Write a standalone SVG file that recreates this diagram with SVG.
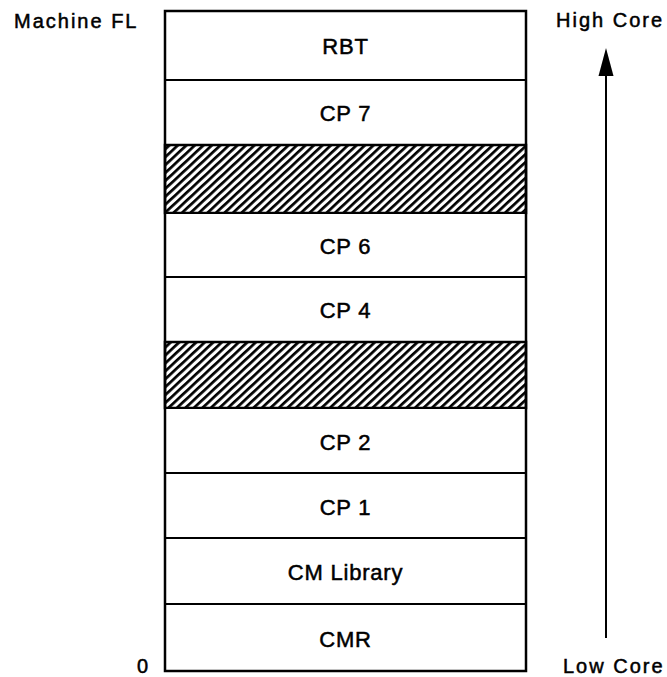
<svg xmlns="http://www.w3.org/2000/svg" width="667" height="677" viewBox="0 0 667 677">
<defs>
<style>
.lbl{font-family:"Liberation Sans",Arial,sans-serif;font-size:22px;fill:#000;stroke:#000;stroke-width:0.5px;text-anchor:middle;letter-spacing:0.8px}
.side{font-family:"Liberation Sans",Arial,sans-serif;font-size:20px;fill:#000;stroke:#000;stroke-width:0.5px;letter-spacing:2px}
.cell{fill:#fff;stroke:#000;stroke-width:2}
.hatch{fill:url(#hatch);stroke:#000;stroke-width:2.5}
</style>
<pattern id="hatch" patternUnits="userSpaceOnUse" width="5.8" height="5.8" patternTransform="rotate(47)">
<rect width="5.8" height="5.8" fill="#fff"/>
<rect x="0" y="0" width="2.7" height="5.8" fill="#000"/>
</pattern>
</defs>
<rect x="0" y="0" width="667" height="677" fill="#fff"/>

<g id="rbt"><rect class="cell" x="165" y="11" width="361" height="69"/><text class="lbl" x="345.5" y="54">RBT</text></g>
<g id="cp7"><rect class="cell" x="165" y="80" width="361" height="65"/><text class="lbl" x="345.5" y="121">CP 7</text></g>
<g id="free1"><rect class="hatch" x="165" y="145" width="361" height="68"/></g>
<g id="cp6"><rect class="cell" x="165" y="213" width="361" height="64"/><text class="lbl" x="345.5" y="254">CP 6</text></g>
<g id="cp4"><rect class="cell" x="165" y="277" width="361" height="65"/><text class="lbl" x="345.5" y="318">CP 4</text></g>
<g id="free2"><rect class="hatch" x="165" y="342" width="361" height="66"/></g>
<g id="cp2"><rect class="cell" x="165" y="408" width="361" height="65"/><text class="lbl" x="345.5" y="450">CP 2</text></g>
<g id="cp1"><rect class="cell" x="165" y="473" width="361" height="65"/><text class="lbl" x="345.5" y="515">CP 1</text></g>
<g id="cmlib"><rect class="cell" x="165" y="538" width="361" height="66"/><text class="lbl" x="345.5" y="580">CM Library</text></g>
<g id="cmr"><rect class="cell" x="165" y="604" width="361" height="67"/><text class="lbl" x="345.5" y="647">CMR</text></g>
<rect x="165" y="11" width="361" height="660" fill="none" stroke="#000" stroke-width="2.5"/>

<g id="labels">
<text class="side" x="14" y="28">Machine FL</text>
<text class="side" x="556" y="27">High Core</text>
<text class="side" x="563" y="673">Low Core</text>
<text class="side" x="137" y="673">0</text>
</g>

<g id="connectors">
<line x1="606" y1="74" x2="606" y2="638" stroke="#000" stroke-width="2"/>
<polygon points="606,48 598.5,76 613.5,76" fill="#000"/>
</g>
</svg>
